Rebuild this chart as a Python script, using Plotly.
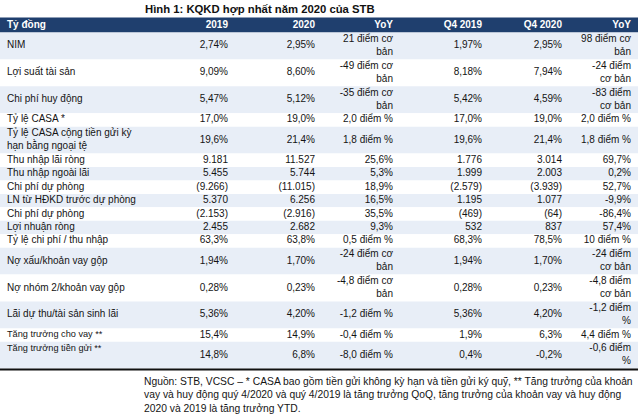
import plotly.graph_objects as go

# ---------------- data ----------------
title = "Hình 1: KQKD hợp nhất năm 2020 của STB"
header = ["Tỷ đồng", "2019", "2020", "YoY", "Q4 2019", "Q4 2020", "YoY"]

labels = [
    "NIM",
    "Lợi suất tài sản",
    "Chi phí huy động",
    "Tỷ lệ CASA *",
    "Tỷ lệ CASA cộng tiền gửi kỳ<br>hạn bằng ngoại tệ",
    "Thu nhập lãi ròng",
    "Thu nhập ngoài lãi",
    "Chi phí dự phòng",
    "LN từ HĐKD trước dự phòng",
    "Chi phí dự phòng",
    "Lợi nhuận ròng",
    "Tỷ lệ chi phí / thu nhập",
    "Nợ xấu/khoản vay gộp",
    "Nợ nhóm 2/khoản vay gộp",
    "Lãi dự thu/tài sản sinh lãi",
    "Tăng trưởng cho vay **",
    "Tăng trưởng tiền gửi **",
]
val_2019 = ["2,74%", "9,09%", "5,47%", "17,0%", "19,6%", "9.181", "5.455", "(9.266)",
            "5.370", "(2.153)", "2.455", "63,3%", "1,94%", "0,28%", "5,36%", "15,4%", "14,8%"]
val_2020 = ["2,95%", "8,60%", "5,12%", "19,0%", "21,4%", "11.527", "5.744", "(11.015)",
            "6.256", "(2.916)", "2.682", "63,8%", "1,70%", "0,23%", "4,20%", "14,9%", "6,8%"]
yoy_year = ["21 điểm cơ<br>bản", "-49 điểm cơ<br>bản", "-35 điểm cơ<br>bản", "2,0 điểm %",
            "1,8 điểm %", "25,6%", "5,3%", "18,9%", "16,5%", "35,5%", "9,3%", "0,5 điểm %",
            "-24 điểm cơ<br>bản", "-4,8 điểm cơ<br>bản", "-1,2 điểm %", "-0,4 điểm %", "-8,0 điểm %"]
val_q4_2019 = ["1,97%", "8,18%", "5,42%", "17,0%", "19,6%", "1.776", "1.999", "(2.579)",
               "1.195", "(469)", "532", "68,3%", "1,94%", "0,28%", "5,36%", "1,9%", "0,4%"]
val_q4_2020 = ["2,95%", "7,94%", "4,59%", "19,0%", "21,4%", "3.014", "2.003", "(3.939)",
               "1.077", "(64)", "837", "78,5%", "1,70%", "0,23%", "4,20%", "6,3%", "-0,2%"]
yoy_q4 = ["98 điểm cơ<br>bản", "-24 điểm<br>cơ bản", "-83 điểm<br>cơ bản", "2,0 điểm %",
          "1,8 điểm %", "69,7%", "0,2%", "52,7%", "-9,9%", "-86,4%", "57,4%", "10 điểm %",
          "-24 điểm<br>cơ bản", "-4,8 điểm<br>cơ bản", "-1,2 điểm<br>%", "4,4 điểm %", "-0,6 điểm<br>%"]

footnote = ("Nguồn: STB, VCSC – * CASA bao gồm tiền gửi không kỳ hạn và tiền gửi ký quỹ, ** Tăng trưởng của khoản<br>"
            "vay và huy động quý 4/2020 và quý 4/2019 là tăng trưởng QoQ, tăng trưởng của khoản vay và huy động<br>"
            "2020 và 2019 là tăng trưởng YTD.")

# ---------------- layout / style ----------------
W, H = 640, 417
TABLE_LEFT, TABLE_RIGHT = 0, 638
LABEL_X = 7
COL_RIGHT = [228, 315, 393, 482, 562, 631]
HEADER_TOP, HEADER_H, LINE_H = 17.5, 15, 13.45
TOP_ALIGNED_LABELS = {16}
SMALL_LABELS = {15, 16}
HEADER_BG = "#1F3F6E"
BAND_BG = "#E8EEF7"
TEXT_C = "#141414"
FONT = "Liberation Sans, Arial, sans-serif"
FS = 10

value_cols = [val_2019, val_2020, yoy_year, val_q4_2019, val_q4_2020, yoy_q4]
n = len(labels)

def nlines(s):
    return s.count("<br>") + 1

row_lines = [max(nlines(labels[i]), *(nlines(c[i]) for c in value_cols)) for i in range(n)]
row_h = [k * LINE_H for k in row_lines]
row_top = []
t = HEADER_TOP + HEADER_H
for h in row_h:
    row_top.append(t)
    t += h
table_bottom = t
row_mid = [row_top[i] + row_h[i] / 2 for i in range(n)]

fig = go.Figure()

# backgrounds
bar_y = [HEADER_TOP + HEADER_H / 2] + row_mid
bar_w = [HEADER_H] + row_h
bar_c = [HEADER_BG] + [BAND_BG if i % 2 == 0 else "#FFFFFF" for i in range(n)]
fig.add_trace(go.Bar(
    orientation="h", y=bar_y, x=[TABLE_RIGHT - TABLE_LEFT] * len(bar_y), base=TABLE_LEFT,
    width=bar_w, marker=dict(color=bar_c, line=dict(width=0)), hoverinfo="skip",
    showlegend=False))

# bottom rule
fig.add_trace(go.Scatter(
    x=[TABLE_LEFT, TABLE_RIGHT], y=[table_bottom + 0.7, table_bottom + 0.7], mode="lines",
    line=dict(color="#111111", width=2), hoverinfo="skip", showlegend=False))

hdr_y = HEADER_TOP + HEADER_H / 2
# header text
fig.add_trace(go.Scatter(
    x=[LABEL_X] + COL_RIGHT, y=[hdr_y] * 7, mode="text", text=[f"<b>{h}</b>" for h in header],
    textposition=["middle right"] + ["middle left"] * 6,
    textfont=dict(family=FONT, size=FS, color="white"), hoverinfo="skip",
    showlegend=False, cliponaxis=False))

# label column
lab_y = [row_top[i] + LINE_H / 2 if i in TOP_ALIGNED_LABELS else row_mid[i] for i in range(n)]
lab_fs = [9.2 if i in SMALL_LABELS else FS for i in range(n)]
fig.add_trace(go.Scatter(
    x=[LABEL_X] * n, y=lab_y, mode="text", text=labels, textposition="middle right",
    textfont=dict(family=FONT, size=lab_fs, color=TEXT_C), hoverinfo="skip",
    showlegend=False, cliponaxis=False))

# value columns
for xr, col in zip(COL_RIGHT, value_cols):
    fig.add_trace(go.Scatter(
        x=[xr] * n, y=row_mid, mode="text", text=col, textposition="middle left",
        textfont=dict(family=FONT, size=FS, color=TEXT_C), hoverinfo="skip",
        showlegend=False, cliponaxis=False))

fig.add_annotation(x=143, y=9, xref="x", yref="y", text=f"<b>{title}</b>", showarrow=False,
                   xanchor="left", yanchor="middle", font=dict(family=FONT, size=11.3, color="#111111"))
fig.add_annotation(x=142, y=table_bottom + 5, xref="x", yref="y", text=footnote, showarrow=False,
                   xanchor="left", yanchor="top", align="left",
                   font=dict(family=FONT, size=10.3, color=TEXT_C))

fig.update_layout(
    width=W, height=H, margin=dict(l=0, r=0, t=0, b=0),
    paper_bgcolor="white", plot_bgcolor="white", barmode="overlay",
    xaxis=dict(range=[0, W], visible=False, fixedrange=True),
    yaxis=dict(range=[H, 0], visible=False, fixedrange=True),
)
fig.write_html("out.html", config={"displayModeBar": False},
               post_script="document.body.style.margin='0';")
